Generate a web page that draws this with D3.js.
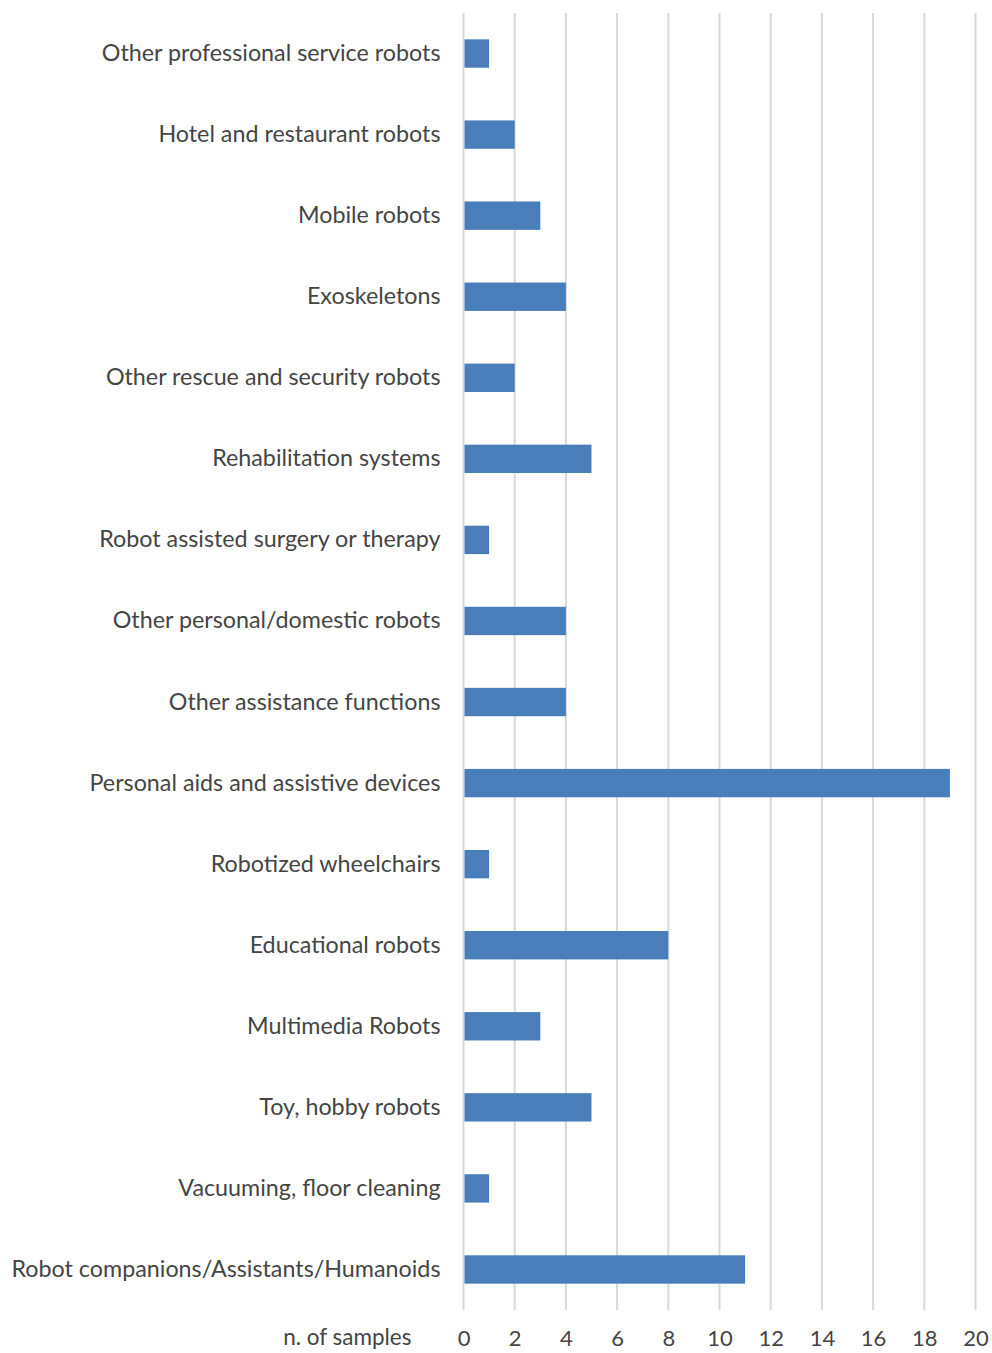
<!DOCTYPE html>
<html>
<head>
<meta charset="utf-8">
<script src="https://cdn.jsdelivr.net/npm/d3@7"></script>
<style>
  body { margin: 0; background: #fff; }
  text { font-family: Lato, "Open Sans", sans-serif; fill: #454545; }
</style>
</head>
<body>
<div id="chart"></div>
<script>
// categories, top to bottom
var categories = [
    "Other professional service robots",
    "Hotel and restaurant robots",
    "Mobile robots",
    "Exoskeletons",
    "Other rescue and security robots",
    "Rehabilitation systems",
    "Robot assisted surgery or therapy",
    "Other personal/domestic robots",
    "Other assistance functions",
    "Personal aids and assistive devices",
    "Robotized wheelchairs",
    "Educational robots",
    "Multimedia Robots",
    "Toy, hobby robots",
    "Vacuuming, floor cleaning",
    "Robot companions/Assistants/Humanoids"
];
var samples = [1, 2, 3, 4, 2, 5, 1, 4, 4, 19, 1, 8, 3, 5, 1, 11];
var xTicks = [0, 2, 4, 6, 8, 10, 12, 14, 16, 18, 20];
var xTitle = "n. of samples";

var W = 992, H = 1353;
var margin = {top: 13, right: 16, bottom: 43, left: 463.5},
    width = W - margin.left - margin.right,
    height = H - margin.top - margin.bottom;

var svg = d3.select("#chart").append("svg")
    .attr("width", W)
    .attr("height", H)
    .append("g")
    .attr("transform", "translate(" + margin.left + "," + margin.top + ")");

var x = d3.scaleLinear().domain([0, 20]).range([0, 512]);
var y = d3.scaleBand().domain(categories).range([0, height]).paddingInner(0.65).paddingOuter(0.325);

// vertical grid lines
svg.selectAll(".grid")
    .data(xTicks)
    .enter().append("line")
    .attr("class", "grid")
    .attr("x1", function(d) { return x(d); })
    .attr("x2", function(d) { return x(d); })
    .attr("y1", 0)
    .attr("y2", height)
    .style("stroke", "#d9d9d9")
    .style("stroke-width", 2);

// bars
svg.selectAll(".bar")
    .data(categories)
    .enter().append("rect")
    .attr("class", "bar")
    .attr("x", x(0) + 1)
    .attr("y", function(d) { return y(d); })
    .attr("width", function(d, i) { return x(samples[i]) - x(0) - 1; })
    .attr("height", y.bandwidth())
    .style("fill", "#4a7ebb");

// category labels
svg.append("g")
    .call(d3.axisLeft(y).tickSize(0).tickPadding(23))
    .call(function(g) { g.select(".domain").remove(); })
    .selectAll("text")
    .style("font-family", "Lato, 'Open Sans', sans-serif")
    .style("font-size", "23.3px")
    .style("fill", "#454545");

// x axis labels
svg.append("g")
    .attr("transform", "translate(0," + height + ")")
    .call(d3.axisBottom(x).tickValues(xTicks).tickSize(0).tickPadding(20))
    .call(function(g) { g.select(".domain").remove(); })
    .selectAll("text")
    .style("font-family", "Lato, 'Open Sans', sans-serif")
    .style("font-size", "22px")
    .style("fill", "#454545");

svg.append("text")
    .attr("x", -52)
    .attr("y", height + 35)
    .attr("text-anchor", "end")
    .style("font-size", "22.5px")
    .text(xTitle);
</script>
</body>
</html>
